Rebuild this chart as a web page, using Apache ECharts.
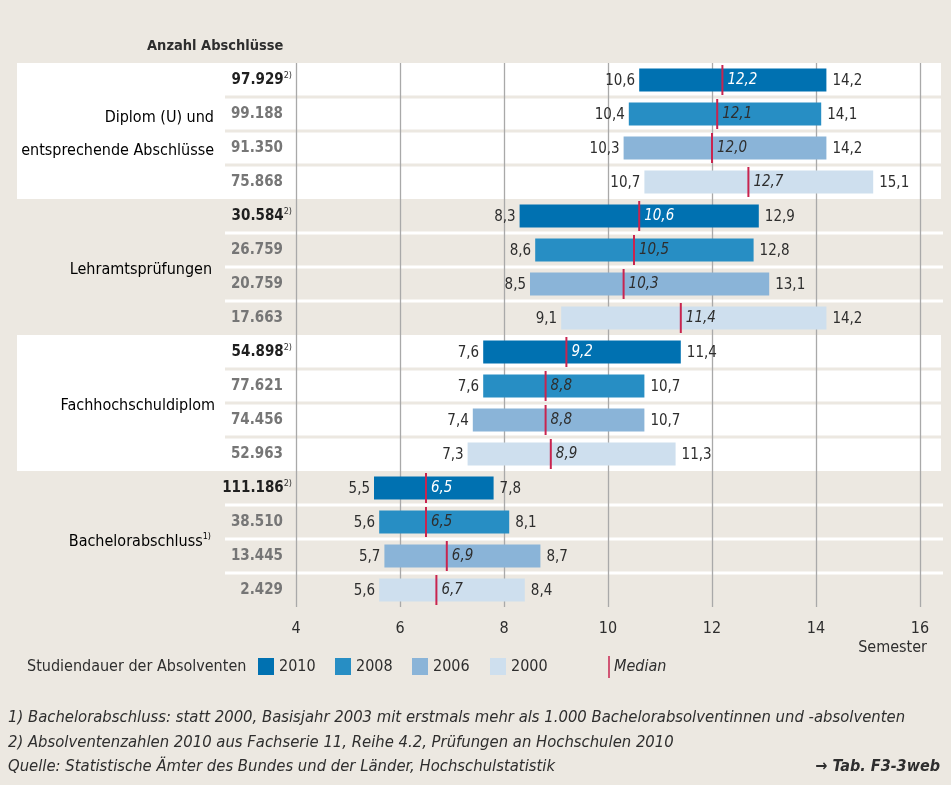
<!DOCTYPE html>
<html>
<head>
<meta charset="utf-8">
<script src="https://cdn.jsdelivr.net/npm/echarts@6/dist/echarts.min.js"></script>
<style>
  html, body { margin: 0; padding: 0; background: #ece8e1; }
  #chart { width: 951px; height: 785px; }
</style>
</head>
<body>
<div id="chart"></div>
<script>
const FONT = '"DejaVu Sans Condensed", "DejaVu Sans", sans-serif';

// Degree groups, four survey years per group
const groupNames = ['Diplom (U) und\nentsprechende Abschlüsse', 'Lehramtsprüfungen', 'Fachhochschuldiplom', 'Bachelorabschluss'];
const years = ['2010', '2008', '2006', '2000'];
const graduateCounts = [
  '97.929', '99.188', '91.350', '75.868',
  '30.584', '26.759', '20.759', '17.663',
  '54.898', '77.621', '74.456', '52.963',
  '111.186', '38.510', '13.445', '2.429'
];

// Study duration in semesters, one entry per group (Diplom, Lehramt, FH, Bachelor)
const start2010 = [10.6, 8.3, 7.6, 5.5];
const median2010 = [12.2, 10.6, 9.2, 6.5];
const end2010 = [14.2, 12.9, 11.4, 7.8];

const start2008 = [10.4, 8.6, 7.6, 5.6];
const median2008 = [12.1, 10.5, 8.8, 6.5];
const end2008 = [14.1, 12.8, 10.7, 8.1];

const start2006 = [10.3, 8.5, 7.4, 5.7];
const median2006 = [12.0, 10.3, 8.8, 6.9];
const end2006 = [14.2, 13.1, 10.7, 8.7];

const start2000 = [10.7, 9.1, 7.3, 5.6];
const median2000 = [12.7, 11.4, 8.9, 6.7];
const end2000 = [15.1, 14.2, 11.3, 8.4];

const xTicks = [4, 6, 8, 10, 12, 14, 16];

const yearColors = ['#0071b1', '#278ec4', '#8ab4d8', '#cedfee'];
const medianColor = '#c8244f';
const textColor = '#2e2e2e';

const yearData = [
  [start2010, median2010, end2010],
  [start2008, median2008, end2008],
  [start2006, median2006, end2006],
  [start2000, median2000, end2000]
];

const fmt = v => v.toFixed(1).replace('.', ',');

function rangeRenderer(yearIdx) {
  return function (params, api) {
    const row = api.value(3);
    const a = api.coord([api.value(0), row]);
    const b = api.coord([api.value(1), row]);
    const m = api.coord([api.value(2), row]);
    const band = api.size([0, 1])[1];
    const h = Math.round(band * 0.68);
    const cy = a[1];
    const medFill = yearIdx === 0 ? '#ffffff' : textColor;
    return {
      type: 'group',
      children: [
        { type: 'rect', shape: { x: a[0], y: cy - h / 2, width: b[0] - a[0], height: h },
          style: { fill: yearColors[yearIdx] } },
        { type: 'line', shape: { x1: m[0], y1: cy - 15, x2: m[0], y2: cy + 15 },
          style: { stroke: medianColor, lineWidth: 2 } },
        { type: 'text', x: a[0] - 4, y: cy + 1,
          style: { text: fmt(api.value(0)), fill: textColor, font: '15px ' + FONT,
                   align: 'right', verticalAlign: 'middle', textAlign: 'right', textVerticalAlign: 'middle' } },
        { type: 'text', x: b[0] + 6, y: cy + 1,
          style: { text: fmt(api.value(1)), fill: textColor, font: '15px ' + FONT,
                   align: 'left', verticalAlign: 'middle', textAlign: 'left', textVerticalAlign: 'middle' } },
        { type: 'text', x: m[0] + 5, y: cy,
          style: { text: fmt(api.value(2)), fill: medFill, font: 'italic 15px ' + FONT,
                   align: 'left', verticalAlign: 'middle', textAlign: 'left', textVerticalAlign: 'middle' } }
      ]
    };
  };
}

// Right edge of each group title
const groupLabelRight = [214, 212, 215, 211];

// Row backgrounds, separators and group titles
function rowDecoration(params, api) {
  const row = api.value(0);
  const group = Math.floor(row / 4);
  const pos = row % 4;
  const band = api.size([0, 1])[1];
  const cy = api.coord([4, row])[1];
  const children = [];
  if (pos === 0 && (group === 0 || group === 2)) {
    const top = cy - band / 2;
    children.push({ type: 'rect', shape: { x: 17, y: top, width: 924, height: band * 4 },
      style: { fill: '#ffffff' } });
  }
  if (pos !== 3) {
    const sy = cy + band / 2;
    children.push({ type: 'rect', shape: { x: 225, y: sy - 1.5, width: 718, height: 3 },
      style: { fill: (group === 0 || group === 2) ? '#ece8e1' : '#ffffff' }, z2: 5 });
  }
  if (pos === 0) {
    const gTop = cy;
    const gBottom = api.coord([4, row + 3])[1];
    const gy = (gTop + gBottom) / 2 + 3;
    const label = group === 3
      ? '{n1|Bachelorabschluss}{s|1)}'
      : '{n|' + groupNames[group].replace('\n', '}\n{n|') + '}';
    children.push({ type: 'text', x: groupLabelRight[group], y: gy, z2: 10,
      style: { text: label, align: 'right', verticalAlign: 'middle', textAlign: 'right', textVerticalAlign: 'middle',
        rich: {
          n: { fontSize: 16, fontFamily: FONT, color: textColor, lineHeight: 33 },
          n1: { fontSize: 16, fontFamily: FONT, color: textColor, lineHeight: 20 },
          s: { fontSize: 9, fontFamily: FONT, color: textColor, verticalAlign: 'top', lineHeight: 12 }
        } } });
  }
  return { type: 'group', children };
}

const rangeSeries = years.map((y, yi) => ({
  name: y,
  type: 'custom',
  z: 3,
  clip: false,
  itemStyle: { color: yearColors[yi] },
  renderItem: rangeRenderer(yi),
  encode: { x: [0, 1, 2], y: 3 },
  data: groupNames.map((g, gi) => [yearData[yi][0][gi], yearData[yi][2][gi], yearData[yi][1][gi], gi * 4 + yi])
}));

const legendLefts = [258, 335, 412, 490];

const noteFont = 'italic 16.5px ' + FONT;

const chart = echarts.init(document.getElementById('chart'), null, { renderer: 'canvas' });
chart.setOption({
  backgroundColor: '#ece8e1',
  animation: false,
  textStyle: { fontFamily: FONT },
  grid: { left: 296, right: 31, top: 63, bottom: 178, containLabel: false, outerBoundsMode: 'none' },
  xAxis: {
    type: 'value',
    min: xTicks[0], max: xTicks[xTicks.length - 1], interval: 2,
    z: 1,
    axisLine: { show: false }, axisTick: { show: false },
    splitLine: { show: true, lineStyle: { color: '#a9a9a9', width: 1.3 } },
    axisLabel: { margin: 14, fontSize: 16, color: textColor, fontFamily: FONT }
  },
  yAxis: {
    type: 'category',
    inverse: true,
    data: graduateCounts,
    axisLine: { show: false }, axisTick: { show: false }, splitLine: { show: false },
    axisLabel: {
      margin: 4,
      formatter: (v, i) => (i % 4 === 0 ? '{b|' + v + '}{s|2)}' : '{g|' + v + '}'),
      rich: {
        b: { fontSize: 15, fontWeight: 'bold', color: '#1f1f1f', fontFamily: FONT },
        g: { fontSize: 15, fontWeight: 'bold', color: '#767676', fontFamily: FONT, padding: [0, 9, 0, 0] },
        s: { fontSize: 9, color: '#333', fontFamily: FONT, verticalAlign: 'top', padding: [0, 0, 9, 0] }
      }
    }
  },
  legend: years.map((y, i) => ({
    data: [y], left: legendLefts[i], top: 658,
    icon: 'rect', itemWidth: 16, itemHeight: 17, selectedMode: false,
    textStyle: { fontSize: 16, color: textColor, fontFamily: FONT }, padding: 0
  })),
  series: [
    {
      type: 'custom', name: 'rows', z: 0, clip: false, silent: true,
      renderItem: rowDecoration,
      encode: { y: 0 },
      data: graduateCounts.map((c, i) => [i])
    },
    ...rangeSeries
  ],
  graphic: [
    { type: 'text', x: 147, y: 46, style: { text: 'Anzahl Abschlüsse', font: 'bold 14.5px ' + FONT, fill: textColor, verticalAlign: 'middle' } },
    { type: 'text', x: 927, y: 648, style: { text: 'Semester', font: '16px ' + FONT, fill: textColor, align: 'right', verticalAlign: 'middle' } },
    { type: 'text', x: 27, y: 667, style: { text: 'Studiendauer der Absolventen', font: '16px ' + FONT, fill: textColor, verticalAlign: 'middle' } },
    { type: 'line', shape: { x1: 609, y1: 656, x2: 609, y2: 678 }, style: { stroke: medianColor, lineWidth: 1.5 } },
    { type: 'text', x: 614, y: 667, style: { text: 'Median', font: 'italic 16px ' + FONT, fill: textColor, verticalAlign: 'middle' } },
    { type: 'text', x: 8, y: 718, style: { text: '1) Bachelorabschluss: statt 2000, Basisjahr 2003 mit erstmals mehr als 1.000 Bachelorabsolventinnen und -absolventen', font: noteFont, fill: textColor, verticalAlign: 'middle' } },
    { type: 'text', x: 8, y: 743, style: { text: '2) Absolventenzahlen 2010 aus Fachserie 11, Reihe 4.2, Prüfungen an Hochschulen 2010', font: noteFont, fill: textColor, verticalAlign: 'middle' } },
    { type: 'text', x: 8, y: 767, style: { text: 'Quelle: Statistische Ämter des Bundes und der Länder, Hochschulstatistik', font: noteFont, fill: textColor, verticalAlign: 'middle' } },
    { type: 'text', x: 940, y: 767, style: { text: '→ Tab. F3-3web', font: 'italic bold 16px ' + FONT, fill: textColor, align: 'right', verticalAlign: 'middle' } }
  ]
});
</script>
</body>
</html>
